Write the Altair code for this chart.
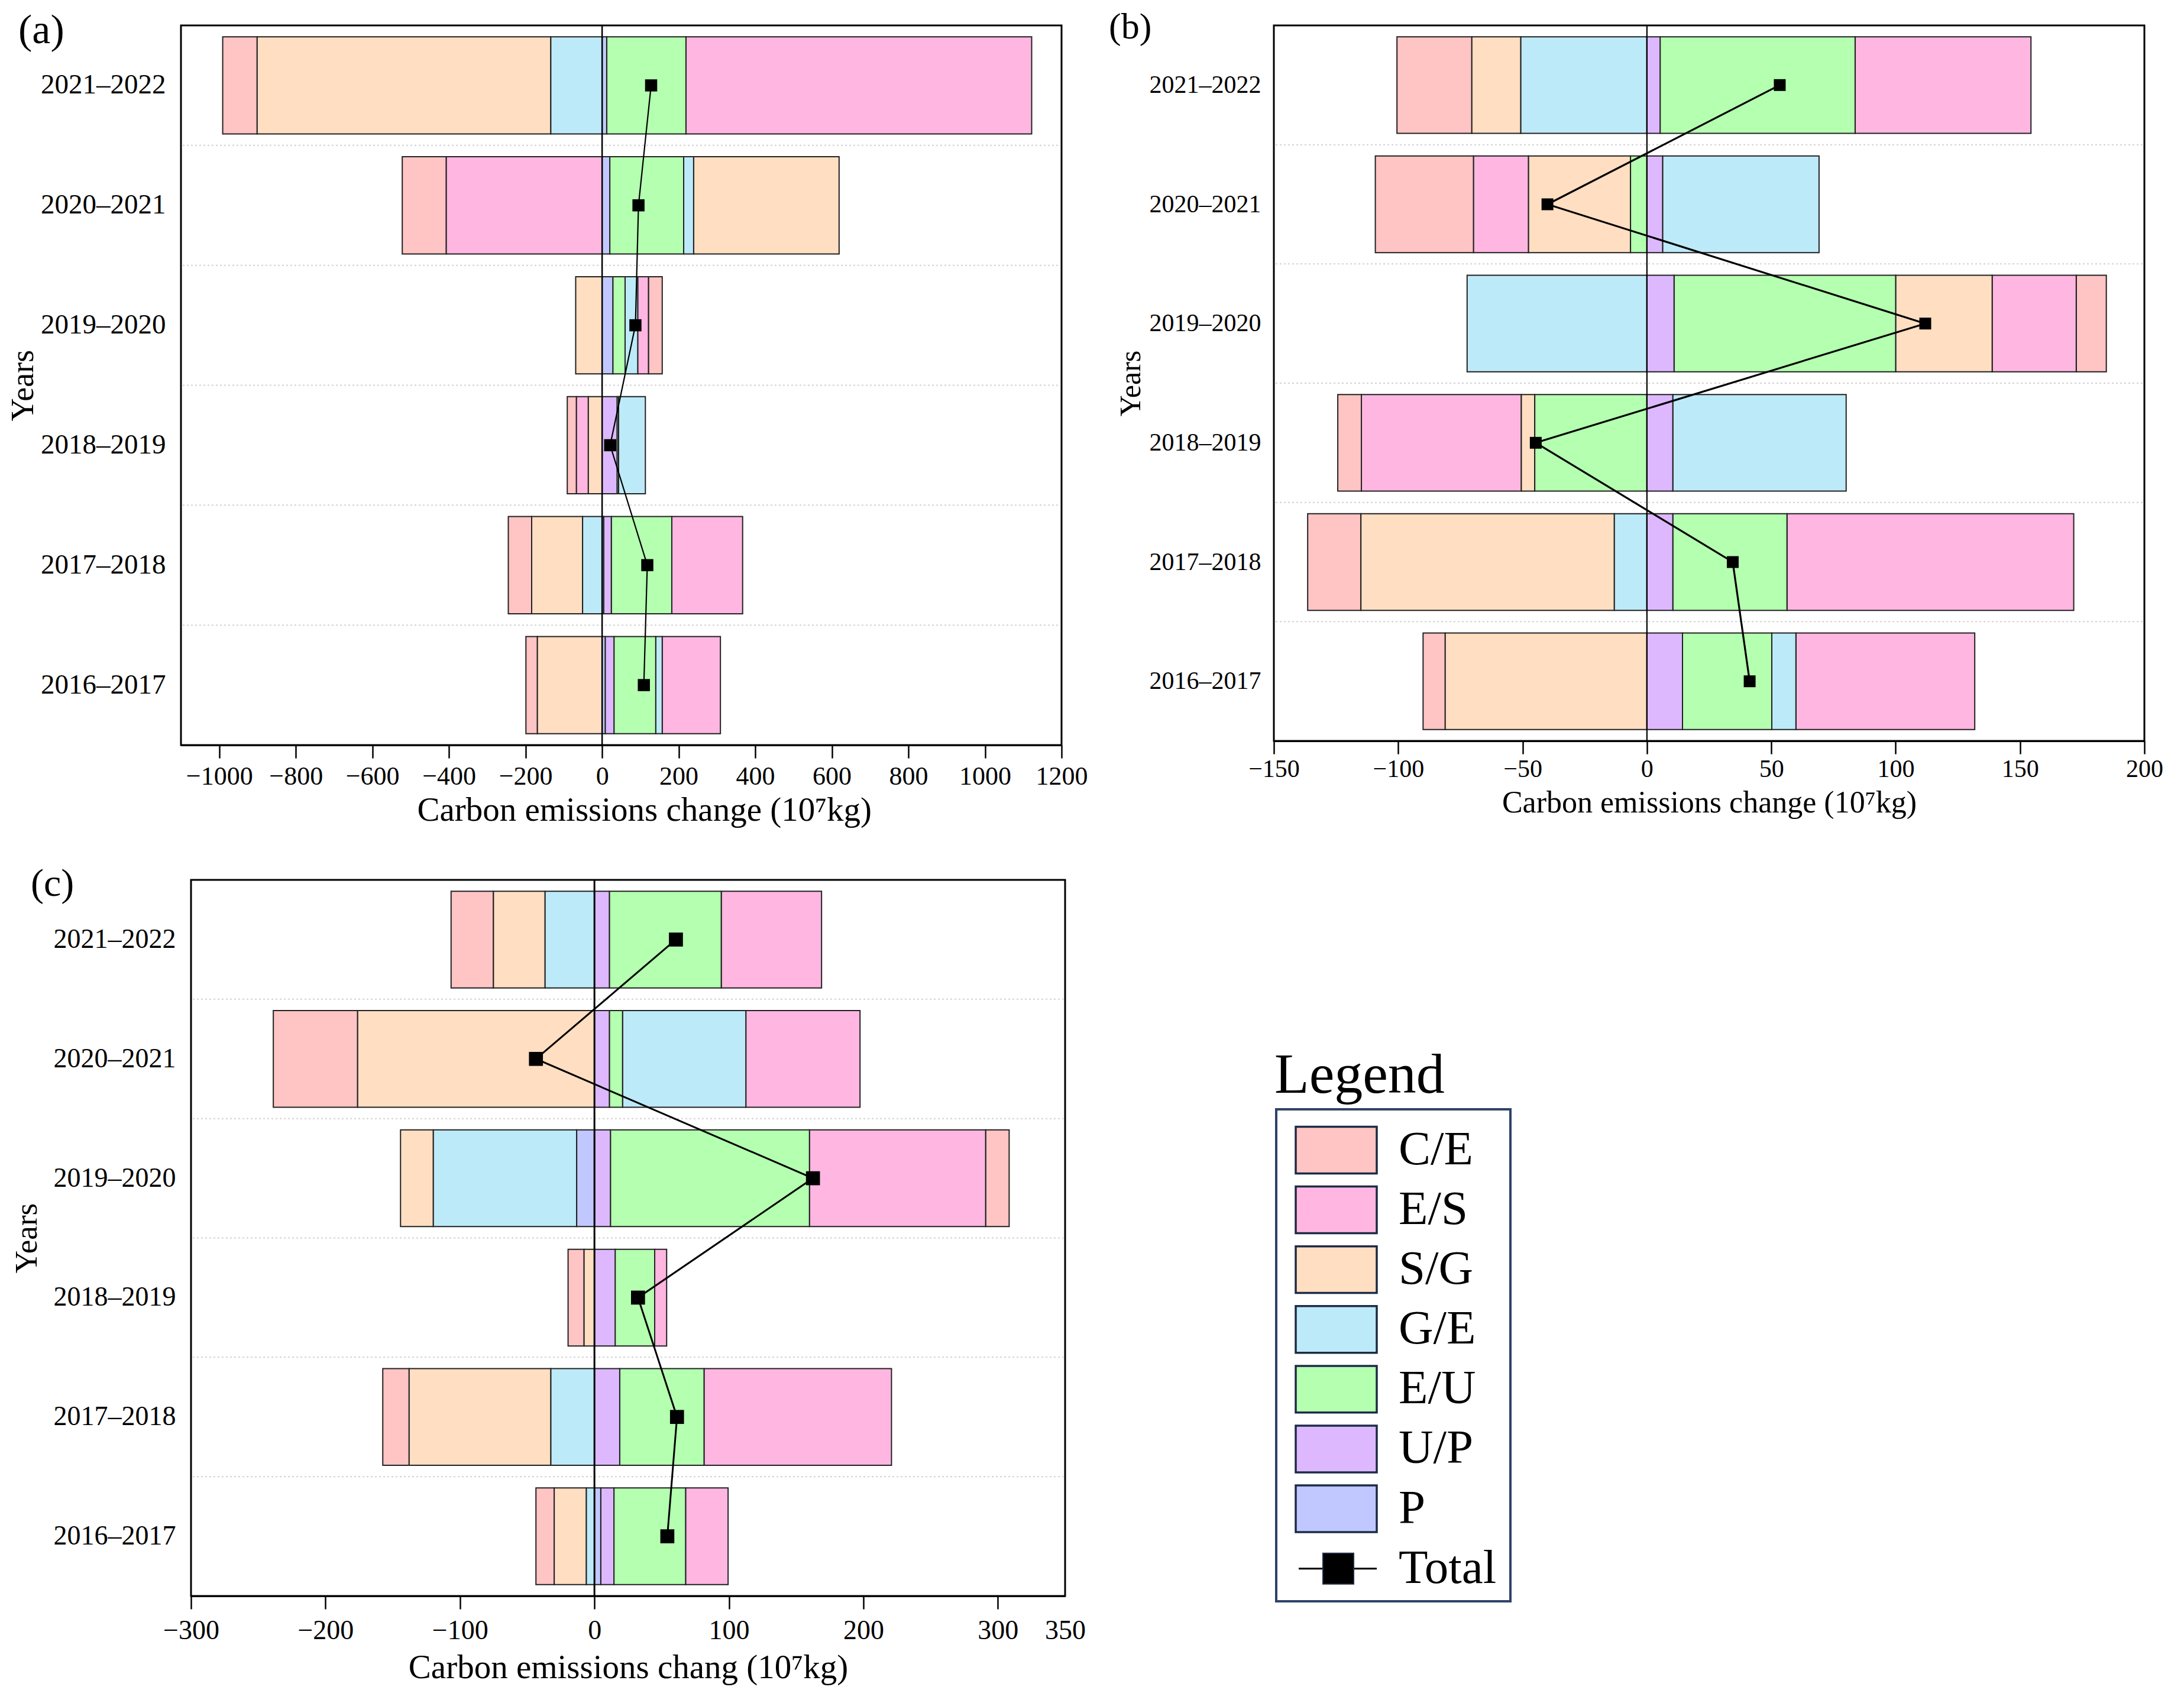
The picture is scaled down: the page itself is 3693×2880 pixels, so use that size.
import altair as alt
import pandas as pd

SERIF = "Liberation Serif"

# ---------------- data ----------------
YEARS = ["2016–2017", "2017–2018", "2018–2019", "2019–2020", "2020–2021", "2021–2022"]
Y_DOMAIN = YEARS[::-1]
FACTORS = ["C/E", "E/S", "S/G", "G/E", "E/U", "U/P", "P"]
# stacking rank: lower rank sits nearer to zero
STACK_RANK = ["P", "U/P", "E/U", "G/E", "S/G", "E/S", "C/E"]

# panel (a)  (values in YEARS order, 0 = no segment)
A_CE = [-30, -61, -24, 36, -115, -90]
A_ES = [152, 185, -31, 28, -407, 903]
A_SG = [-169, -133, -36, -69, 380, -767]
A_GE = [17, -51, 70, 33, 26, -134]
A_EU = [109, 158, 4, 32, 193, 207]
A_UP = [23, 20, 39, 0, 0, 0]
A_P = [8, 4, 0, 28, 20, 12]
A_TOTAL = [109, 118, 21, 87, 95, 128]

# panel (b)
B_CE = [-8.9, -21.4, -9.5, 12.1, -39.5, -30.1]
B_ES = [71.9, 115.3, -64.3, 33.8, -22.1, 70.7]
B_SG = [-81.1, -101.9, -5.4, 38.8, -41.0, -19.7]
B_GE = [9.7, -13.1, 69.7, -72.3, 62.9, -50.7]
B_EU = [35.9, 45.9, -45.1, 89.1, -6.6, 78.4]
B_UP = [14.3, 10.4, 10.4, 10.9, 6.3, 5.3]
B_P = [0, 0, 0, 0, 0, 0]
B_TOTAL = [41.3, 34.5, -44.7, 111.9, -40.0, 53.4]

# panel (c)
C_CE = [-13.6, -19.6, -11.9, 17.5, -62.7, -31.5]
C_ES = [31.6, 139.4, 8.9, 131.0, 84.9, 74.6]
C_SG = [-23.9, -105.4, -7.7, -24.4, -176.1, -38.4]
C_GE = [-6.0, -32.4, 0, -106.6, 91.7, -36.7]
C_EU = [53.3, 62.7, 29.4, 148.0, 9.8, 83.2]
C_UP = [9.8, 18.8, 15.4, 11.9, 11.1, 11.1]
C_P = [4.7, 0, 0, -13.2, 0, 0]
C_TOTAL = [54.2, 61.4, 32.4, 162.5, -43.5, 60.6]

A_TICKS = [-1000, -800, -600, -400, -200, 0, 200, 400, 600, 800, 1000, 1200]
B_TICKS = [-150, -100, -50, 0, 50, 100, 150, 200]
C_TICKS = [-300, -200, -100, 0, 100, 200, 300, 350]

COLORS_AB = ["#FFC4C4", "#FFB6E1", "#FFDEC2", "#BDEAF8", "#B4FFB0", "#DDB8FF", "#C1C8FF"]
COLORS_C = ["#FFC4C4", "#F5B6E1", "#FBDEC2", "#BDEAF8", "#B4FFB0", "#DDB8FF", "#C1C8FF"]

LEG_ITEMS = FACTORS + ["Total"]


def long_table(series):
    rows = []
    for f in FACTORS:
        for i, y in enumerate(YEARS):
            v = series[f][i]
            if v != 0:
                rows.append({"year": y, "factor": f, "value": v, "ord": STACK_RANK.index(f)})
    return pd.DataFrame(rows)


def build_layers(series, totals, colors, c):
    bars_df = long_table(series)
    tot_df = pd.DataFrame({"year": YEARS, "total": totals, "idx": list(range(len(YEARS)))})
    grid_df = pd.DataFrame({"year": YEARS[:-1]})
    lab_df = pd.DataFrame({"t": [c["label"]]})
    step = c["h"] / len(YEARS)
    x0 = c["xoff"]
    x1 = c["xoff"] + c["w"]

    if x0 != 0:
        xsc = alt.Scale(domain=c["domain"], nice=False, zero=False, range=[x0, x1])
    else:
        xsc = alt.Scale(domain=c["domain"], nice=False, zero=False)
    ysc = alt.Scale(domain=Y_DOMAIN, paddingInner=0.19, paddingOuter=0.095)
    csc = alt.Scale(domain=FACTORS, range=colors)

    xaxis_kw = dict(
        values=c["ticks"], title=c["xtitle"], format="d", labelOverlap=False, labelFlush=False,
        labelFontSize=c["lfs"], titleFontSize=c["tfs"], labelFont=SERIF, titleFont=SERIF,
        labelColor="black", titleColor="black", titleFontWeight="normal",
        tickSize=22, tickWidth=2.5, tickColor="black", domain=True, domainColor="black",
        domainWidth=3, labelPadding=c["lpad"], titleX=x0 + c["w"] * c["tcx"], titleY=c["ty"],
        titleBaseline="alphabetic", titleAlign="center", grid=False,
    )
    if "tickOpacity" in c:
        xaxis_kw["tickOpacity"] = c["tickOpacity"]
    xaxis = alt.Axis(**xaxis_kw)
    yaxis = alt.Axis(
        title="Years", ticks=False, domain=False, labelFontSize=c["ylfs"], labelFont=SERIF,
        labelColor="black", labelPadding=c["ylpad"], labelLimit=500, titleFont=SERIF,
        titleFontSize=c["yfs"], titleColor="black", titleFontWeight="normal",
        titleX=c["ytx"], titleY=c["h"] / 2, titleAngle=270, titleAlign="center",
        titleBaseline="alphabetic", grid=False,
    )

    def Y(**kw):
        return alt.Y("year:N", scale=ysc, axis=yaxis, sort=Y_DOMAIN, **kw)

    frame = alt.Chart(lab_df).mark_rect(fillOpacity=0, stroke="black", strokeWidth=3).encode(
        x=alt.value(x0), x2=alt.value(x1), y=alt.value(0), y2=alt.value(c["h"])
    )

    grid = alt.Chart(grid_df).mark_rule(
        color="#d2d2d2", strokeWidth=2, strokeDash=[3, 4], yOffset=-step / 2
    ).encode(x=alt.value(x0 + 3), x2=alt.value(x1 - 3), y=Y(bandPosition=0.5))

    bars = alt.Chart(bars_df).mark_bar(stroke="#222222", strokeWidth=2).encode(
        x=alt.X("value:Q", stack="zero", scale=xsc, axis=xaxis),
        y=Y(),
        color=alt.Color("factor:N", scale=csc, legend=None),
        order=alt.Order("ord:Q", sort="ascending"),
    )

    zero = alt.Chart(lab_df).mark_rule(color="black", strokeWidth=c["zw"]).encode(
        x=alt.X(datum=0, scale=xsc, axis=xaxis)
    )

    line = alt.Chart(tot_df).mark_line(color="black", strokeWidth=c["lw"]).encode(
        x=alt.X("total:Q", scale=xsc, axis=xaxis), y=Y(), order=alt.Order("idx:Q")
    )
    pts = alt.Chart(tot_df).mark_square(size=c["ms"], color="black", opacity=1).encode(
        x=alt.X("total:Q", scale=xsc, axis=xaxis), y=Y()
    )
    label = alt.Chart(lab_df).mark_text(
        align="left", baseline="alphabetic", fontSize=c["pfs"], font=SERIF, color="black",
        x=c["px"], y=c["py"],
    ).encode(text="t:N")

    return [frame, grid, bars, zero, line, pts, label], csc


A_CFG = dict(label="(a)", w=1489, xoff=-17, h=1217, domain=[-1100, 1200], ticks=A_TICKS,
             xtitle="Carbon emissions change (10⁷kg)", lfs=44, tfs=57, lpad=9, tcx=0.526,
             ty=127, ylfs=47, ylpad=43, yfs=54, ytx=-268, zw=2.5, lw=2.2, ms=420,
             pfs=70, px=-292, py=30)
B_CFG = dict(label="(b)", w=1472, xoff=0, h=1210, domain=[-150, 200], ticks=B_TICKS,
             xtitle="Carbon emissions change (10⁷kg)", lfs=42, tfs=52, lpad=5, tcx=0.5,
             ty=120, ylfs=42, ylpad=22, yfs=50, ytx=-227, zw=2.2, lw=3.2, ms=400,
             pfs=62, px=-279, py=22)
C_CFG = dict(label="(c)", w=1478, xoff=0, h=1211, domain=[-300, 350], ticks=C_TICKS,
             xtitle="Carbon emissions chang (10⁷kg)", lfs=46, tfs=57, lpad=14, tcx=0.5,
             ty=138, ylfs=46, ylpad=26, yfs=53, ytx=-262, zw=3, lw=3, ms=560,
             pfs=66, px=-271, py=26.5,
             tickOpacity={"condition": {"test": "datum.value === 350", "value": 0}, "value": 1})

A_SER = {"C/E": A_CE, "E/S": A_ES, "S/G": A_SG, "G/E": A_GE, "E/U": A_EU, "U/P": A_UP, "P": A_P}
B_SER = {"C/E": B_CE, "E/S": B_ES, "S/G": B_SG, "G/E": B_GE, "E/U": B_EU, "U/P": B_UP, "P": B_P}
C_SER = {"C/E": C_CE, "E/S": C_ES, "S/G": C_SG, "G/E": C_GE, "E/U": C_EU, "U/P": C_UP, "P": C_P}

la, _ = build_layers(A_SER, A_TOTAL, COLORS_AB, A_CFG)
lb, _ = build_layers(B_SER, B_TOTAL, COLORS_AB, B_CFG)
lc, csc_c = build_layers(C_SER, C_TOTAL, COLORS_C, C_CFG)

pa = alt.layer(*la).properties(width=A_CFG["w"] + A_CFG["xoff"], height=A_CFG["h"])
pb = alt.layer(*lb).properties(width=B_CFG["w"], height=B_CFG["h"])

# ---------------- legend (drawn inside panel c's layer, right of its plot) ----------------
lsc = alt.Scale(domain=LEG_ITEMS, range=[406.4, 1215.2], paddingInner=0.22, paddingOuter=0.11)
one = pd.DataFrame({"t": ["Legend"]})
sw_df = pd.DataFrame({"item": FACTORS, "factor": FACTORS})
all_df = pd.DataFrame({"item": LEG_ITEMS})
tot_leg = pd.DataFrame({"item": ["Total"]})
LY = alt.Y("item:N", scale=lsc, axis=None, sort=LEG_ITEMS)

leg_box = alt.Chart(one).mark_rect(fillOpacity=0, stroke="#2d4368", strokeWidth=4).encode(
    x=alt.value(1835), x2=alt.value(2231), y=alt.value(388), y2=alt.value(1220)
)
leg_title = alt.Chart(one).mark_text(
    align="left", baseline="alphabetic", fontSize=96, font=SERIF, color="black", x=1832, y=360
).encode(text="t:N")
leg_sw = alt.Chart(sw_df).mark_rect(stroke="#1d2b45", strokeWidth=3.5).encode(
    x=alt.value(1868), x2=alt.value(2005), y=LY,
    color=alt.Color("factor:N", scale=csc_c, legend=None),
)
leg_rule = alt.Chart(tot_leg).mark_rule(color="black", strokeWidth=3).encode(
    x=alt.value(1873), x2=alt.value(2005),
    y=alt.Y("item:N", scale=lsc, axis=None, sort=LEG_ITEMS, bandPosition=0.5)
)
leg_sq = alt.Chart(tot_leg).mark_square(size=2700, color="black", opacity=1, stroke="#1d2b45", strokeWidth=2).encode(
    x=alt.value(1940), y=LY
)
leg_txt = alt.Chart(all_df).mark_text(
    align="left", baseline="middle", fontSize=81, font=SERIF, color="black"
).encode(x=alt.value(2042), y=LY, text="item:N")

legend = alt.layer(leg_box, leg_title, leg_sw, leg_rule, leg_sq, leg_txt)
pc = alt.layer(alt.layer(*lc), legend).resolve_scale(y="independent").properties(
    width=C_CFG["w"], height=C_CFG["h"]
)

row1 = alt.hconcat(pa, pb, spacing=36)
chart = alt.vconcat(row1, pc, spacing=63).properties(
    padding={"left": 4, "top": 7, "right": 5, "bottom": 5}
).configure(font=SERIF).configure_view(strokeWidth=0)

chart.save("out.html", embed_options={"renderer": "svg", "actions": False})
